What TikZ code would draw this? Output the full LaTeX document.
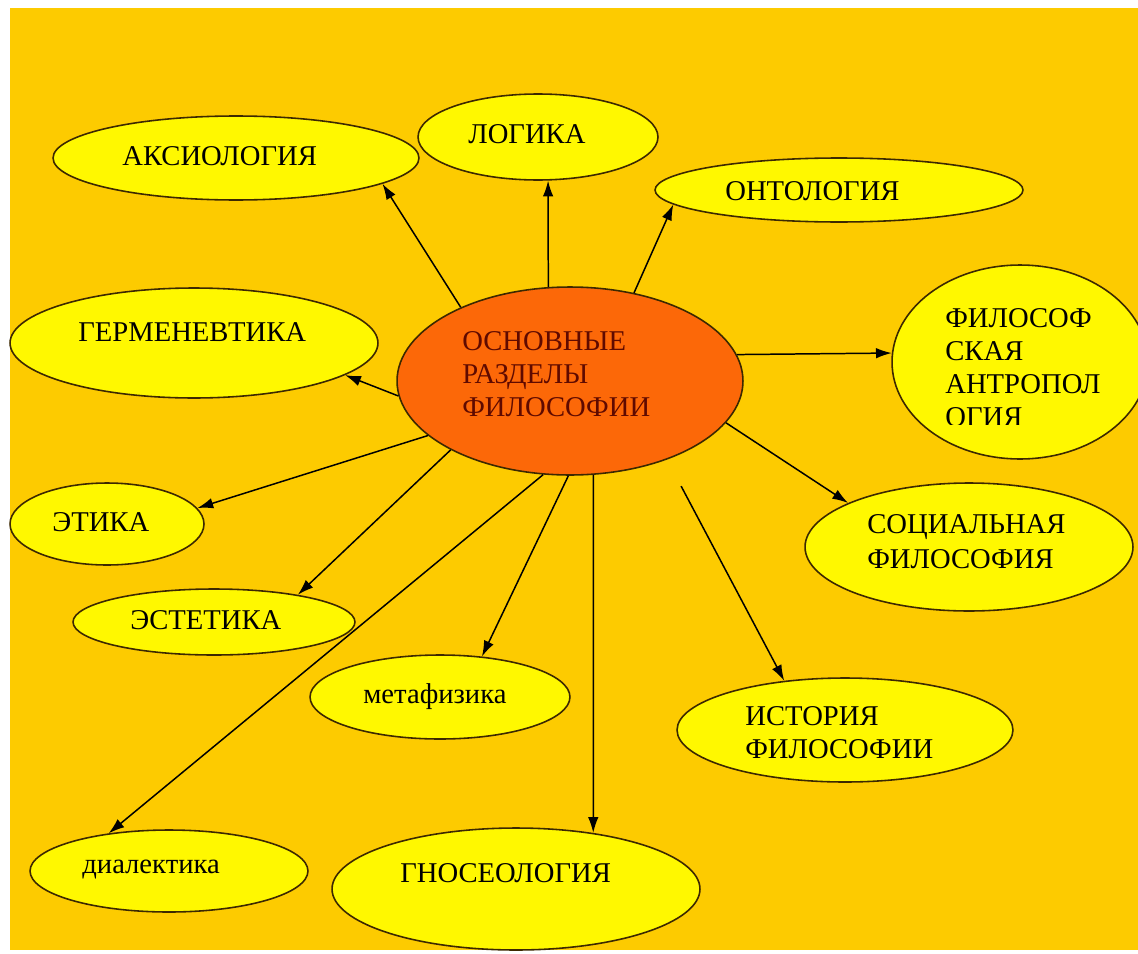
\documentclass[tikz,border=0pt]{standalone}
\usepackage{fontspec}
\setmainfont{Liberation Serif}
\usetikzlibrary{shapes.geometric,arrows.meta}
\definecolor{bgOrange}{RGB}{253,203,0}
\definecolor{partYellow}{RGB}{255,248,0}
\definecolor{coreOrange}{RGB}{252,104,8}
\definecolor{edgeBrown}{RGB}{60,40,0}
\definecolor{coreText}{RGB}{95,10,0}

\begin{document}
\begin{tikzpicture}[x=0.02cm,y=-0.02cm,>={Latex[length=9pt,width=6pt]},
    part/.style={ellipse,draw=edgeBrown,line width=0.9pt,fill=partYellow,inner sep=0pt},
    core/.style={ellipse,draw=edgeBrown,line width=0.9pt,fill=coreOrange,inner sep=0pt},
    lbl/.style={anchor=base west,align=left,inner sep=0pt,font=\fontsize{16.3}{18.7}\selectfont},
    link/.style={->,line width=0.85pt}]
    \fill[white] (0,0) rectangle (1138,953);
    \useasboundingbox (0,0) rectangle (1138,953);
    \fill[bgOrange] (10,8) rectangle (1138,950);
    % ellipses
    \node[core,minimum width=6.92cm,minimum height=3.76cm] (main) at (570,381) {};
    \node[part,minimum width=7.32cm,minimum height=1.68cm] (aks) at (236,158) {};
    \node[part,minimum width=4.8cm,minimum height=1.72cm] (log) at (538,137) {};
    \node[part,minimum width=7.36cm,minimum height=1.28cm] (ont) at (839,190) {};
    \node[part,minimum width=7.36cm,minimum height=2.2cm] (herm) at (194,343) {};
    \node[part,minimum width=5.12cm,minimum height=3.88cm] (antr) at (1020,362) {};
    \node[part,minimum width=3.88cm,minimum height=1.64cm] (eth) at (107,524) {};
    \node[part,minimum width=5.64cm,minimum height=1.32cm] (est) at (214,622) {};
    \node[part,minimum width=5.2cm,minimum height=1.68cm] (meta) at (440,697) {};
    \node[part,minimum width=6.56cm,minimum height=2.56cm] (soc) at (969,547) {};
    \node[part,minimum width=6.72cm,minimum height=2.08cm] (hist) at (845,730) {};
    \node[part,minimum width=5.56cm,minimum height=1.64cm] (dial) at (169,871) {};
    \node[part,minimum width=7.36cm,minimum height=2.44cm] (gnos) at (516,889) {};
    % texts (base = last line)
    \node[lbl,text=coreText] (mainT) at (462,416) {ОСНОВНЫЕ\\РАЗДЕЛЫ\\ФИЛОСОФИИ};
    \node[lbl] (aksT) at (122,165) {АКСИОЛОГИЯ};
    \node[lbl] (logT) at (468,143) {ЛОГИКА};
    \node[lbl] (ontT) at (725,200) {ОНТОЛОГИЯ};
    \node[lbl] (hermT) at (78,341) {ГЕРМЕНЕВТИКА};
    \begin{scope}
        \clip (880,260) rectangle (1138,424);
        \node[lbl] (antrT) at (945,426) {ФИЛОСОФ\\СКАЯ\\АНТРОПОЛ\\ОГИЯ};
    \end{scope}
    \node[lbl] (ethT) at (52,531) {ЭТИКА};
    \node[lbl] (estT) at (130,629) {ЭСТЕТИКА};
    \node[lbl] (metaT) at (363,703) {метафизика};
    \node[lbl,font=\fontsize{16.3}{19.8}\selectfont] (socT) at (867,568) {СОЦИАЛЬНАЯ\\ФИЛОСОФИЯ};
    \node[lbl] (histT) at (745,758) {ИСТОРИЯ\\ФИЛОСОФИИ};
    \node[lbl] (dialT) at (82,873) {диалектика};
    \node[lbl] (gnosT) at (400,882) {ГНОСЕОЛОГИЯ};
    % arrows
    \draw[link] (main.146) -- (aks.-10);
    \draw[link] (main.103) -- (log.-77);
    \draw[link] (main.54) -- (ont.185);
    \draw[link] (main.185) -- (herm.-12);
    \draw[link] (main.9) -- (antr.176);
    \draw[link] (main.-15) -- (soc.160);
    \draw[link,shorten <=0.6cm] (main.-39) -- (hist.141);
    \draw[link] (main.-76) -- (gnos.36);
    \draw[link] (main.-91) -- (meta.44);
    \draw[link] (main.-150) -- (est.18);
    \draw[link] (main.-159) -- (eth.10);
    \draw[link] (main.-106) -- (dial.148);
\end{tikzpicture}
\end{document}
